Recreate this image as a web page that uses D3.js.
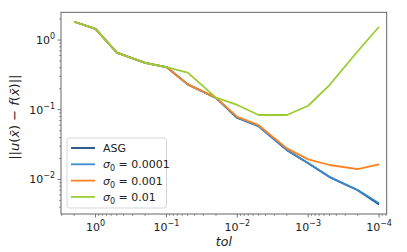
<!DOCTYPE html>
<html>
<head>
<meta charset="utf-8">
<script src="https://cdn.jsdelivr.net/npm/d3@7"></script>
<style>
  body { margin: 0; background: #fff; }
  svg { font-family: "DejaVu Sans", sans-serif; }
</style>
</head>
<body>
<div id="chart"></div>
<script>
// tolerances (x) and errors for each run
const tol = [2, 1, 0.5, 0.2, 0.1, 0.05, 0.02, 0.01, 0.005, 0.002, 0.001, 0.0005, 0.0002, 0.0001];
const asg = [1.83, 1.45, 0.66, 0.47, 0.41, 0.231, 0.148, 0.076, 0.058, 0.0263, 0.0171, 0.0108, 0.0070, 0.00435];
const sigma0001 = [1.83, 1.45, 0.66, 0.47, 0.41, 0.231, 0.148, 0.077, 0.058, 0.0265, 0.0172, 0.0109, 0.00705, 0.00455];
const sigma001 = [1.83, 1.45, 0.66, 0.47, 0.41, 0.231, 0.149, 0.079, 0.060, 0.0279, 0.0194, 0.0161, 0.0141, 0.0164];
const sigma01 = [1.83, 1.45, 0.66, 0.47, 0.41, 0.34, 0.149, 0.117, 0.084, 0.084, 0.114, 0.226, 0.69, 1.55];

const seriesNames = ['ASG', '0.0001', '0.001', '0.01'];
const seriesColors = ['#1c4a7d', '#3a8bd0', '#ff8220', '#9acd32'];
const seriesValues = [asg, sigma0001, sigma001, sigma01];

const xTicks = [0, -1, -2, -3, -4];
const yTicks = [0, -1, -2];

const width = 407, height = 252;
const margin = {left: 61, right: 20.3, top: 12.3, bottom: 38};

const svg = d3.select('#chart').append('svg')
  .attr('width', width)
  .attr('height', height);

const x = d3.scaleLog()
  .domain([3.07, 7.8e-5])
  .range([margin.left, width - margin.right]);

const y = d3.scaleLog()
  .domain([0.00319, 2.5])
  .range([height - margin.bottom, margin.top]);

const plotBottom = height - margin.bottom;
const plotRight = width - margin.right;

// minor ticks
const xMinor = [];
for (let e = 0; e >= -5; e--) {
  for (let m = 2; m <= 9; m++) {
    const v = m * Math.pow(10, e);
    if (v <= 3.07 && v >= 7.8e-5) xMinor.push(v);
  }
}
const yMinor = [];
for (let e = 0; e >= -3; e--) {
  for (let m = 2; m <= 9; m++) {
    const v = m * Math.pow(10, e);
    if (v <= 2.5 && v >= 0.00319) yMinor.push(v);
  }
}

const axisColor = '#555';

svg.append('g').selectAll('line').data(xMinor).enter().append('line')
  .attr('x1', d => x(d)).attr('x2', d => x(d))
  .attr('y1', plotBottom).attr('y2', plotBottom + 2)
  .attr('stroke', axisColor).attr('stroke-width', 0.6);

svg.append('g').selectAll('line').data(yMinor).enter().append('line')
  .attr('x1', margin.left - 2).attr('x2', margin.left)
  .attr('y1', d => y(d)).attr('y2', d => y(d))
  .attr('stroke', axisColor).attr('stroke-width', 0.6);

// major ticks + labels
const xg = svg.append('g');
xTicks.forEach(e => {
  const px = x(Math.pow(10, e));
  xg.append('line')
    .attr('x1', px).attr('x2', px)
    .attr('y1', plotBottom).attr('y2', plotBottom + 3.5)
    .attr('stroke', axisColor).attr('stroke-width', 0.8);
  const t = xg.append('text')
    .attr('x', px)
    .attr('y', plotBottom + 17)
    .attr('text-anchor', 'middle')
    .attr('font-size', 11)
    .attr('fill', '#222');
  t.append('tspan').text('10');
  t.append('tspan').attr('dy', -5).attr('font-size', 8).text(e === 0 ? '0' : '\u2212' + (-e));
});

const yg = svg.append('g');
yTicks.forEach(e => {
  const py = y(Math.pow(10, e));
  yg.append('line')
    .attr('x1', margin.left - 3.5).attr('x2', margin.left)
    .attr('y1', py).attr('y2', py)
    .attr('stroke', axisColor).attr('stroke-width', 0.8);
  const t = yg.append('text')
    .attr('x', margin.left - 6)
    .attr('y', py + 4)
    .attr('text-anchor', 'end')
    .attr('font-size', 11)
    .attr('fill', '#222');
  t.append('tspan').text('10');
  t.append('tspan').attr('dy', -5).attr('font-size', 8).text(e === 0 ? '0' : '\u2212' + (-e));
});

// lines
const line = d3.line()
  .x((d, i) => x(tol[i]))
  .y(d => y(d));

svg.append('defs').append('clipPath').attr('id', 'clip')
  .append('rect')
  .attr('x', margin.left).attr('y', margin.top)
  .attr('width', plotRight - margin.left)
  .attr('height', plotBottom - margin.top);

const lines = svg.append('g').attr('clip-path', 'url(#clip)');
// draw order: ASG first, then the sigma runs on top
[0, 1, 2, 3].forEach(k => {
  lines.append('path')
    .datum(seriesValues[k])
    .attr('d', line)
    .attr('fill', 'none')
    .attr('stroke', seriesColors[k])
    .attr('stroke-width', 1.8)
    .attr('stroke-linejoin', 'round');
});

// frame
svg.append('rect')
  .attr('x', margin.left).attr('y', margin.top)
  .attr('width', plotRight - margin.left)
  .attr('height', plotBottom - margin.top)
  .attr('fill', 'none')
  .attr('stroke', axisColor)
  .attr('stroke-width', 0.9);

// axis labels
svg.append('text')
  .attr('x', (margin.left + plotRight) / 2)
  .attr('y', 246)
  .attr('text-anchor', 'middle')
  .attr('font-size', 12.5)
  .attr('font-style', 'italic')
  .attr('fill', '#222')
  .text('tol');

const yl = svg.append('text')
  .attr('transform', 'translate(19,' + ((margin.top + plotBottom) / 2 + 4) + ') rotate(-90)')
  .attr('text-anchor', 'middle')
  .attr('font-size', 13)
  .attr('fill', '#222');
yl.append('tspan').text('||');
yl.append('tspan').attr('font-style', 'italic').text('u');
yl.append('tspan').text('(');
yl.append('tspan').attr('font-style', 'italic').text('x\u0304');
yl.append('tspan').text(') \u2212 ');
yl.append('tspan').attr('font-style', 'italic').text('f');
yl.append('tspan').text('(');
yl.append('tspan').attr('font-style', 'italic').text('x\u0304');
yl.append('tspan').text(')||');

// legend
const lg = svg.append('g');
lg.append('rect')
  .attr('x', 67).attr('y', 138)
  .attr('width', 99.5).attr('height', 70)
  .attr('rx', 2.5)
  .attr('fill', 'rgba(255,255,255,0.8)')
  .attr('stroke', '#ccc')
  .attr('stroke-width', 0.8);

seriesNames.forEach((name, i) => {
  const ly = 148 + i * 16.3;
  lg.append('line')
    .attr('x1', 71).attr('x2', 95)
    .attr('y1', ly).attr('y2', ly)
    .attr('stroke', seriesColors[i])
    .attr('stroke-width', 1.8);
  const t = lg.append('text')
    .attr('x', 103)
    .attr('y', ly + 4)
    .attr('font-size', 11)
    .attr('fill', '#222');
  if (i === 0) {
    t.text(name);
  } else {
    t.append('tspan').attr('font-style', 'italic').text('\u03c3');
    t.append('tspan').attr('dy', 3).attr('font-size', 8).text('0');
    t.append('tspan').attr('dy', -3).text(' = ' + name);
  }
});
</script>
</body>
</html>
